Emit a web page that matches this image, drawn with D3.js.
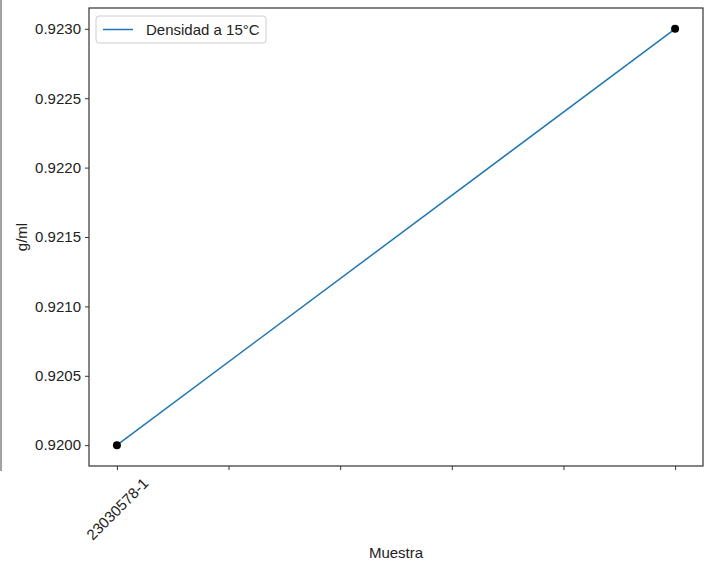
<!DOCTYPE html>
<html lang="en">
<head>
    <meta charset="UTF-8">
    <title>Densidad a 15°C</title>
    <script src="https://d3js.org/d3.v7.min.js"></script>
    <style>
        body { margin: 0; background: #fff; }
        text { font-family: "Liberation Sans", Arial, sans-serif; fill: #222; }
    </style>
</head>
<body>
    <div id="chart"></div>
    <script>
        // datos
        var posiciones = [0, 1];
        var densidades = [0.9200, 0.9230];
        var tickPos = [0, 0.2, 0.4, 0.6, 0.8, 1.0];
        var tickLabels = ["23030578-1", "", "", "", "", ""];
        var yTicks = [0.9200, 0.9205, 0.9210, 0.9215, 0.9220, 0.9225, 0.9230];

        var width = 711, height = 567;
        var margin = { left: 89, top: 8, right: 8, bottom: 101 };
        var w = width - margin.left - margin.right;
        var h = height - margin.top - margin.bottom;

        var svg = d3.select("#chart").append("svg")
            .attr("width", width)
            .attr("height", height);

        // linea suelta del borde izquierdo
        svg.append("line")
            .attr("x1", 1).attr("x2", 1)
            .attr("y1", 0).attr("y2", 471)
            .attr("stroke", "#444").attr("stroke-width", 1);

        var g = svg.append("g")
            .attr("transform", "translate(" + margin.left + "," + margin.top + ")");

        var x = d3.scaleLinear().domain([-0.05, 1.05]).range([0, w]);
        var y = d3.scaleLinear().domain([0.91985, 0.92315]).range([h, 0]);

        // eje y
        var yAxis = g.append("g")
            .call(d3.axisLeft(y).tickValues(yTicks).tickFormat(d3.format(".4f")).tickSizeOuter(0).tickSize(4).tickPadding(4));
        yAxis.select(".domain").remove();
        yAxis.selectAll("line").attr("stroke", "#333");
        yAxis.selectAll("text").style("font-size", "15px").attr("fill", "#222");

        // eje x
        var xAxis = g.append("g")
            .attr("transform", "translate(0," + h + ")")
            .call(d3.axisBottom(x).tickValues(tickPos).tickFormat(function(d, i) { return tickLabels[i]; }).tickSizeOuter(0).tickSize(4));
        xAxis.select(".domain").remove();
        xAxis.selectAll("line").attr("stroke", "#333");
        xAxis.selectAll("text")
            .style("font-size", "15px")
            .attr("fill", "#222")
            .attr("text-anchor", "middle")
            .attr("y", 0)
            .attr("dy", "0.35em")
            .attr("transform", "translate(0,43) rotate(-45)");

        // marco
        g.append("rect")
            .attr("width", w).attr("height", h)
            .attr("fill", "none")
            .attr("stroke", "#333").attr("stroke-width", 1.2);

        var datos = posiciones.map(function(p, i) { return { x: p, y: densidades[i] }; });

        g.append("path")
            .datum(datos)
            .attr("fill", "none")
            .attr("stroke", "#1f77b4")
            .attr("stroke-width", 1.5)
            .attr("d", d3.line().x(function(d) { return x(d.x); }).y(function(d) { return y(d.y); }));

        g.selectAll("circle")
            .data(datos)
            .enter()
            .append("circle")
            .attr("cx", function(d) { return x(d.x); })
            .attr("cy", function(d) { return y(d.y); })
            .attr("r", 4)
            .attr("fill", "#000");

        // leyenda
        var leg = g.append("g").attr("transform", "translate(7,8)");
        leg.append("rect")
            .attr("width", 170).attr("height", 27).attr("rx", 3)
            .attr("fill", "#fff").attr("stroke", "#ccc");
        leg.append("line")
            .attr("x1", 7).attr("x2", 37).attr("y1", 13.5).attr("y2", 13.5)
            .attr("stroke", "#1f77b4").attr("stroke-width", 1.5);
        leg.append("text")
            .attr("x", 50).attr("y", 13.5).attr("dy", "0.35em")
            .style("font-size", "15px")
            .text("Densidad a 15°C");

        // titulos de ejes
        svg.append("text")
            .attr("transform", "translate(27," + (margin.top + h / 2) + ") rotate(-90)")
            .attr("text-anchor", "middle")
            .style("font-size", "15px")
            .text("g/ml");
        svg.append("text")
            .attr("x", margin.left + w / 2)
            .attr("y", 558)
            .attr("text-anchor", "middle")
            .style("font-size", "15px")
            .text("Muestra");
    </script>
</body>
</html>
